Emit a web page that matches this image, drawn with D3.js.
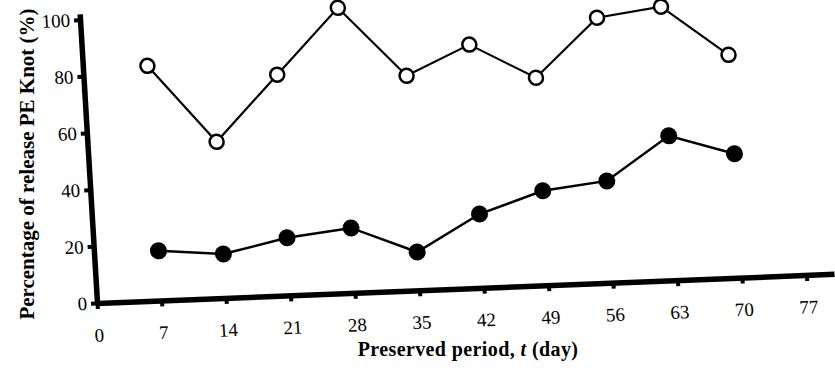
<!DOCTYPE html>
<html>
<head>
<meta charset="utf-8">
<script src="https://cdn.jsdelivr.net/npm/d3@7"></script>
<style>
  body { margin: 0; background: #fff; }
  text { font-family: "Liberation Serif", "DejaVu Serif", serif; fill: #000; }
</style>
</head>
<body>
<script>
// data
var days = [7, 14, 21, 28, 35, 42, 49, 56, 63, 70];
var openSeries = [82.8, 55.1, 77.9, 100.6, 75.7, 85.8, 73.2, 93.5, 96.5, 78.6];
var filledSeries = [17.5, 15.5, 20.3, 22.9, 13.5, 26.0, 33.3, 35.9, 50.9, 43.7];
var xTicks = [0, 7, 14, 21, 28, 35, 42, 49, 56, 63, 70, 77];
var yTicks = [0, 20, 40, 60, 80, 100];

var width = 835, height = 371;

var svg = d3.select("body").append("svg")
    .attr("width", width)
    .attr("height", height);

// the scan is slightly tilted, so the plot frame is drawn through an affine matrix
var g = svg.append("g")
    .attr("transform", "matrix(1,-0.0395,0.060,1,97,303)");

var x = d3.scaleLinear().domain([0, 80]).range([0, 737]);
var y = d3.scaleLinear().domain([0, 102]).range([0, -289]);

var xAxis = d3.axisBottom(x)
    .tickValues(xTicks)
    .tickSize(6)
    .tickSizeOuter(0)
    .tickPadding(19);

var yAxis = d3.axisLeft(y)
    .tickValues(yTicks)
    .tickSize(6)
    .tickSizeOuter(0)
    .tickPadding(4);

var xg = g.append("g").call(xAxis);
var yg = g.append("g").call(yAxis);

[xg, yg].forEach(function(a) {
    a.select(".domain").attr("stroke", "#000").attr("stroke-width", 5.5);
    a.selectAll(".tick line").attr("stroke", "#000").attr("stroke-width", 4);
    a.selectAll(".tick text")
        .style("font-family", "'Liberation Serif', serif")
        .style("font-size", "19px")
        .attr("fill", "#000");
});

var line = d3.line()
    .x(function(d) { return x(d[0]); })
    .y(function(d) { return y(d[1]); });

var openPts = days.map(function(d, i) { return [d, openSeries[i]]; });
var filledPts = days.map(function(d, i) { return [d, filledSeries[i]]; });

g.append("path")
    .datum(filledPts)
    .attr("d", line)
    .attr("fill", "none")
    .attr("stroke", "#000")
    .attr("stroke-width", 2.5);

g.selectAll(".filled").data(filledPts)
  .enter().append("circle")
    .attr("class", "filled")
    .attr("cx", function(d) { return x(d[0]); })
    .attr("cy", function(d) { return y(d[1]); })
    .attr("r", 8.5)
    .attr("fill", "#000");

g.append("path")
    .datum(openPts)
    .attr("d", line)
    .attr("fill", "none")
    .attr("stroke", "#000")
    .attr("stroke-width", 2.2);

g.selectAll(".open").data(openPts)
  .enter().append("circle")
    .attr("class", "open")
    .attr("cx", function(d) { return x(d[0]); })
    .attr("cy", function(d) { return y(d[1]); })
    .attr("r", 7)
    .attr("fill", "#fff")
    .attr("stroke", "#000")
    .attr("stroke-width", 2.5);

// axis titles
svg.append("text")
    .attr("transform", "translate(34,164) rotate(-90)")
    .attr("text-anchor", "middle")
    .style("font-size", "21px")
    .style("font-weight", "bold")
    .text("Percentage of release PE Knot (%)");

var xt = svg.append("text")
    .attr("x", 468)
    .attr("y", 356)
    .attr("text-anchor", "middle")
    .style("font-size", "20px")
    .style("font-weight", "bold")
    .style("letter-spacing", "0.4px");
xt.append("tspan").text("Preserved period, ");
xt.append("tspan").style("font-style", "italic").text("t");
xt.append("tspan").text("  (day)");
</script>
</body>
</html>
